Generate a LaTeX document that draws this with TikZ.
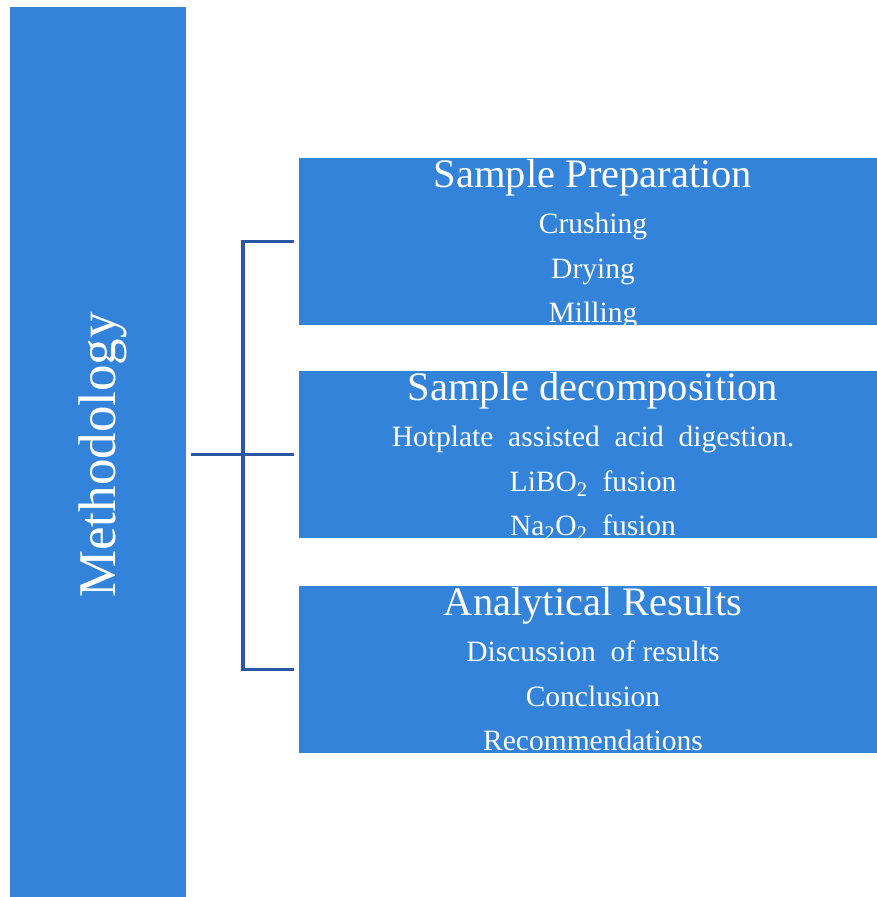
\documentclass[tikz,border=0pt]{standalone}
\usepackage{fontspec}
\setmainfont{Liberation Serif}
\definecolor{boxblue}{RGB}{50,131,217}
\definecolor{linkblue}{RGB}{43,86,166}
\tikzset{
  bluebox/.style={fill=boxblue, draw=none, inner sep=0pt, anchor=north west,
                  minimum width=578pt, minimum height=167pt},
  headtxt/.style={text=white, anchor=base, inner sep=0pt,
                  font=\fontsize{40.5}{40.5}\selectfont},
  itemtxt/.style={text=white, anchor=base, inner sep=0pt,
                  font=\fontsize{29.5}{29.5}\selectfont},
  link/.style={draw=linkblue, line width=3.5pt}}

\begin{document}
\begin{tikzpicture}[x=1pt,y=-1pt]
    \useasboundingbox (0,0) rectangle (877,897);
    % ---- left: tall bar ----
    \node[fill=boxblue, inner sep=0pt, anchor=north west,
          minimum width=176pt, minimum height=890pt] (meth) at (10,7) {};
    \node[text=white, rotate=90, anchor=base, inner sep=0pt,
          font=\fontsize{53}{53}\selectfont] (methtxt) at (115,455) {Methodology};
    % ---- right: the three boxes ----
    \foreach \n/\y in {prep/158,dec/371,res/586}{
      \node[bluebox] (\n) at (299,\y) {};}
    \node[headtxt] (prephd) at (593,187) {Sample Preparation};
    \node[headtxt] (dechd)  at (593,400) {Sample decomposition};
    \node[headtxt] (reshd)  at (593,615) {Analytical Results};
    \foreach \t/\y/\k in {Crushing/233/1,Drying/278/2,Milling/322/3}{
      \node[itemtxt] (prep\k) at (593,\y) {\t};}
    \foreach \t/\y/\k in {%
      Hotplate\ \ assisted\ \ acid\ \ digestion./446/1,%
      LiBO\textsubscript{2}\ \ fusion/491/2,%
      Na\textsubscript{2}O\textsubscript{2}\ \ fusion/535/3}{
      \node[itemtxt] (dec\k) at (593,\y) {\t};}
    \foreach \t/\y/\k in {Discussion\ \ of\ results/661/1,Conclusion/706/2,Recommendations/750/3}{
      \node[itemtxt] (res\k) at (593,\y) {\t};}
    % ---- bracket ----
    \path (dec.west) ++(-56,0) coordinate (jn);
    \draw[link, shorten <=5pt, shorten >=5pt]
      (prep.west) -- (jn |- prep.west) -- (jn |- res.west) -- (res.west);
    \draw[link, shorten <=5pt, shorten >=5pt] (meth.east |- jn) -- (dec.west);
\end{tikzpicture}
\end{document}
